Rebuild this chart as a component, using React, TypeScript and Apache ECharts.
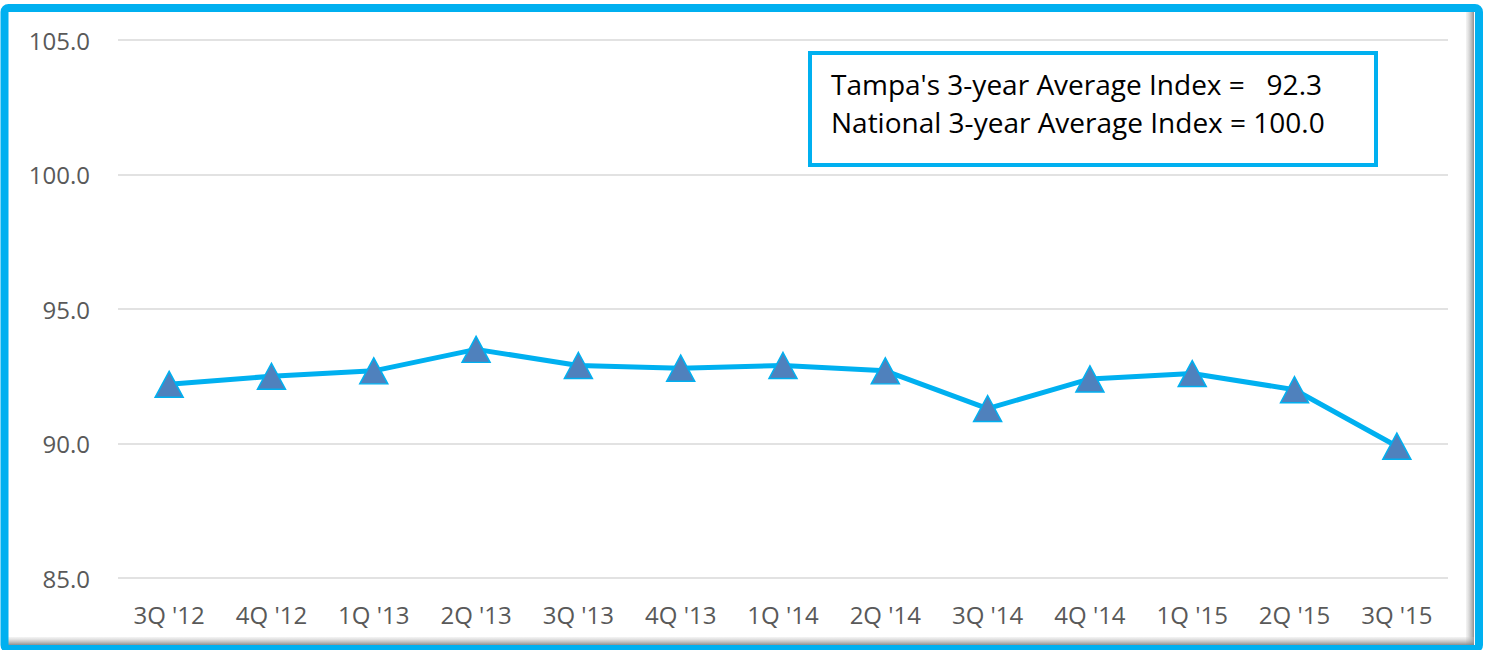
import React, { useEffect, useRef } from "react";
import * as echarts from "echarts";

const categories = ["3Q '12", "4Q '12", "1Q '13", "2Q '13", "3Q '13", "4Q '13", "1Q '14", "2Q '14", "3Q '14", "4Q '14", "1Q '15", "2Q '15", "3Q '15"];
const indexValues = [92.2, 92.5, 92.7, 93.5, 92.9, 92.8, 92.9, 92.7, 91.3, 92.4, 92.6, 92.0, 89.9];
const noteLines = ["Tampa's 3-year Average Index =   92.3", "National 3-year Average Index = 100.0"];
const yTicks = { min: 85, max: 105, interval: 5 };

export default function App() {
  const ref = useRef<HTMLDivElement>(null);
  useEffect(() => {
    if (!ref.current) return;
    const chart = echarts.init(ref.current, null, { renderer: "svg" });
    const font = "'Open Sans', 'Noto Sans', sans-serif";
    chart.setOption({
      animation: false,
      backgroundColor: "#ffffff",
      grid: { left: 118, right: 37, top: 40, bottom: 72 },
      xAxis: {
        type: "category",
        data: categories,
        boundaryGap: true,
        axisLine: { show: false },
        axisTick: { show: false },
        axisLabel: { color: "#595959", fontSize: 24, fontFamily: font, margin: 24, interval: 0 },
      },
      yAxis: {
        type: "value",
        min: yTicks.min,
        max: yTicks.max,
        interval: yTicks.interval,
        axisLine: { show: false },
        axisTick: { show: false },
        axisLabel: { color: "#595959", fontSize: 24, fontFamily: font, margin: 28, formatter: (v: number) => v.toFixed(1) },
        splitLine: { lineStyle: { color: "#D9D9D9", width: 1.5 } },
      },
      series: [
        {
          type: "line",
          data: indexValues,
          symbol: "triangle",
          symbolSize: [28, 26],
          lineStyle: { color: "#00B0F0", width: 5 },
          itemStyle: { color: "#4F81BD", borderColor: "#00B0F0", borderWidth: 1.5 },
          z: 3,
        },
      ],
      graphic: [
        {
          type: "rect",
          shape: { x: 1466, y: 12, width: 8, height: 634 },
          style: {
            fill: new echarts.graphic.LinearGradient(0, 0, 1, 0, [
              { offset: 0, color: "rgba(200,200,200,0.2)" },
              { offset: 1, color: "rgba(130,130,130,0.9)" },
            ]),
          },
          z: 10,
        },
        {
          type: "rect",
          shape: { x: 8, y: 637, width: 1466, height: 8 },
          style: {
            fill: new echarts.graphic.LinearGradient(0, 0, 0, 1, [
              { offset: 0, color: "rgba(200,200,200,0.2)" },
              { offset: 1, color: "rgba(130,130,130,0.9)" },
            ]),
          },
          z: 10,
        },
        {
          type: "rect",
          shape: { x: 4.5, y: 8, width: 1474.5, height: 641, r: 4 },
          style: { fill: "none", stroke: "#00B0F0", lineWidth: 8 },
          z: 11,
        },
        {
          type: "rect",
          shape: { x: 810, y: 53, width: 566, height: 112 },
          style: { fill: "#ffffff", stroke: "#00B0F0", lineWidth: 4 },
          z: 12,
        },
        {
          type: "text",
          x: 831,
          y: 84,
          style: { text: noteLines[0], fill: "#000000", fontSize: 28, fontFamily: font, verticalAlign: "middle" },
          z: 13,
        },
        {
          type: "text",
          x: 831,
          y: 122,
          style: { text: noteLines[1], fill: "#000000", fontSize: 28, fontFamily: font, verticalAlign: "middle" },
          z: 13,
        },
      ],
    });
    return () => chart.dispose();
  }, []);
  return <div ref={ref} style={{ position: "absolute", left: 0, top: 0, width: 1485, height: 650 }} />;
}
